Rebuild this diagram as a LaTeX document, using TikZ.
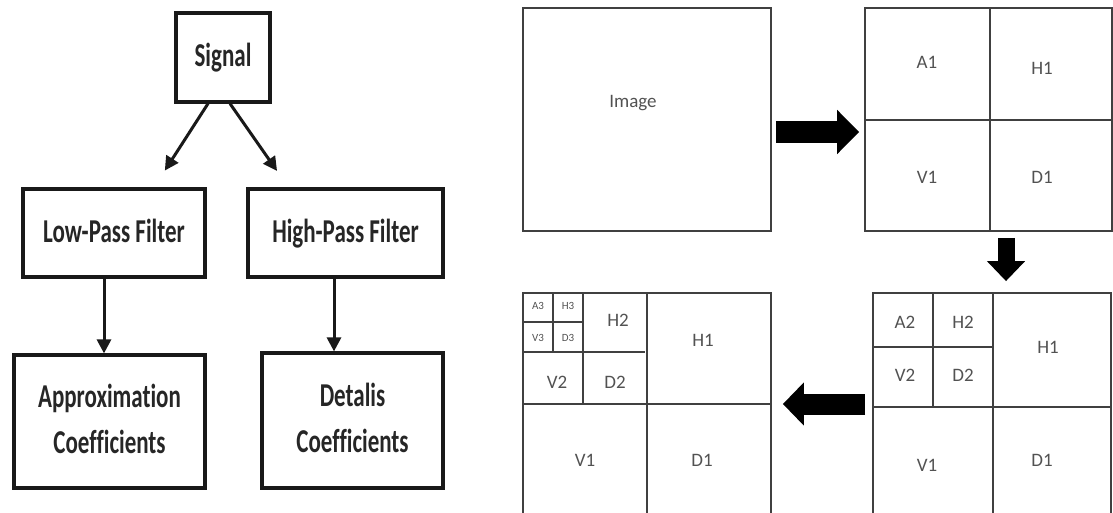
\documentclass[tikz,border=0pt]{standalone}
\usepackage{fontspec}
\setmainfont{Carlito}[Ligatures=CommonOff]
\usepackage{graphicx}
\usetikzlibrary{arrows.meta,positioning,calc}

\newcommand{\tallbox}[1]{\scalebox{1}[1.45]{\begin{tabular}{@{}c@{}}#1\end{tabular}}}

\begin{document}
\begin{tikzpicture}[x=1pt, y=-1pt,
    block/.style={rectangle, draw=black!90, line width=3.2pt, inner sep=0pt, font=\fontsize{23}{32}\selectfont\bfseries, text=black!85},
    arrow/.style={-{Triangle[length=14pt,width=14pt]}, line width=3pt, draw=black!90},
    panel/.style={rectangle, draw=black!75, line width=1.8pt, inner sep=0pt},
    split/.style={draw=black!75, line width=1.8pt},
    band/.style={font=\fontsize{19}{22}\selectfont, text=black!68},
    small band/.style={font=\fontsize{11}{13}\selectfont, text=black!68},
    bigarrow/.style={draw=black, line width=#1}
]
\useasboundingbox (0,0) rectangle (1113,513);

% filter tree
\node[block, minimum width=94pt, minimum height=89pt] (signal) at (223,57.5) {\tallbox{Signal}};
\node[block, minimum width=182pt, minimum height=88pt] (lowpass) at (114,233) {\tallbox{Low-Pass Filter}};
\node[block, minimum width=195pt, minimum height=88pt] (highpass) at (345.5,233) {\tallbox{High-Pass Filter}};
\node[block, minimum width=191pt, minimum height=133pt] (approx) at (109.5,421.5) {\tallbox{Approximation\\Coefficients}};
\node[block, minimum width=181pt, minimum height=135pt] (details) at (352.5,420.5) {\tallbox{Detalis\\Coefficients}};

\draw[arrow, shorten >=20pt] ([xshift=-15pt]signal.south) -- ([xshift=40pt]lowpass.north);
\draw[arrow, shorten >=20pt] ([xshift=7pt]signal.south) -- ([xshift=-57pt]highpass.north);
\draw[arrow] ([xshift=-10pt]lowpass.south) -- ([xshift=-5.5pt]approx.north);
\draw[arrow] ([xshift=-11.5pt]highpass.south) -- ([xshift=-18.5pt]details.north);

% decomposition panels
\node[panel, minimum width=248pt, minimum height=223pt] (image) at (647,119.5) {};
\node[band] (imagetxt) at (633,103) {Image};

\node[panel, minimum width=247pt, minimum height=223pt] (lvl1) at (988.5,119.5) {};
\draw[split] (990,8) -- (990,231);
\draw[split] (865,120) -- (1112,120);
\node[band] (a1) at (927,62) {A1};
\node[band] (h1) at (1042,68) {H1};
\node[band] (v1) at (927,177) {V1};
\node[band] (d1) at (1042,177) {D1};

\node[panel, minimum width=238pt, minimum height=228pt] (lvl2) at (992,407) {};
\draw[split] (993,293) -- (993,521);
\draw[split] (873,407) -- (1111,407);
\draw[split] (933,293) -- (933,407);
\draw[split] (873,347) -- (993,347);
\node[band] (a2) at (905,322) {A2};
\node[band] (h2) at (963,322) {H2};
\node[band] (v2) at (905,375) {V2};
\node[band] (d2) at (963,375) {D2};
\node[band] (h1b) at (1048,347) {H1};
\node[band] (v1b) at (927,465) {V1};
\node[band] (d1b) at (1042,460) {D1};

\node[panel, minimum width=248pt, minimum height=228pt] (lvl3) at (647,407) {};
\draw[split] (647,293) -- (647,521);
\draw[split] (523,404) -- (771,404);
\draw[split] (583,293) -- (583,404);
\draw[split] (523,352) -- (645,352);
\draw[split] (553,293) -- (553,352);
\draw[split] (523,322) -- (583,322);
\node[small band] (a3) at (538,306) {A3};
\node[small band] (h3) at (568,306) {H3};
\node[small band] (v3) at (538,338) {V3};
\node[small band] (d3) at (568,338) {D3};
\node[band] (h2c) at (618,320) {H2};
\node[band] (v2c) at (557,382) {V2};
\node[band] (d2c) at (615,382) {D2};
\node[band] (h1c) at (703,340) {H1};
\node[band] (v1c) at (585,460) {V1};
\node[band] (d1c) at (702,460) {D1};

\draw[bigarrow=22pt, -{Triangle[length=22pt,width=43pt]}, shorten <=4pt, shorten >=5pt]
    ([yshift=-12.5pt]image.east) -- ([yshift=-12.5pt]lvl1.west);
\draw[bigarrow=17pt, -{Triangle[length=20pt,width=37pt]}, shorten <=6pt, shorten >=11pt]
    ([xshift=17.5pt]lvl1.south) -- ([xshift=14pt]lvl2.north);
\draw[bigarrow=21pt, -{Triangle[length=21pt,width=42pt]}, shorten <=7pt, shorten >=11pt]
    ([yshift=3pt]lvl2.west) -- ([yshift=3pt]lvl3.east);

\end{tikzpicture}
\end{document}
